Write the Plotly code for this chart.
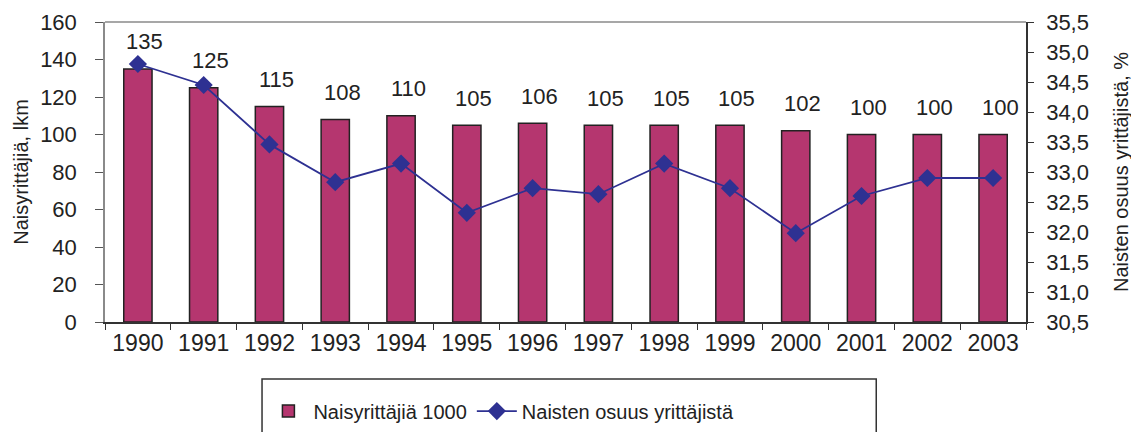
import plotly.graph_objects as go

years = ["1990", "1991", "1992", "1993", "1994", "1995", "1996",
         "1997", "1998", "1999", "2000", "2001", "2002", "2003"]
naisyrittajia = [135, 125, 115, 108, 110, 105, 106, 105, 105, 105, 102, 100, 100, 100]
osuus = [34.8, 34.45, 33.46, 32.83, 33.14, 32.32, 32.73, 32.63, 33.14, 32.73,
         31.98, 32.6, 32.9, 32.9]

FONT = "Arial, Liberation Sans, sans-serif"
BAR_COLOR = "#B5366F"
LINE_COLOR = "#2E3192"

fig = go.Figure()
fig.add_trace(go.Bar(
    x=years, y=naisyrittajia, name="Naisyrittäjiä 1000",
    marker=dict(color=BAR_COLOR, line=dict(color="#222222", width=1.5)),
    width=0.43, yaxis="y",
))
fig.add_trace(go.Scatter(
    x=years, y=osuus, name="Naisten osuus yrittäjistä",
    mode="lines+markers", yaxis="y2",
    line=dict(color=LINE_COLOR, width=1.8),
    marker=dict(symbol="diamond", size=14, color=LINE_COLOR),
))

# value labels above the bars (category axis -> position by category index)
for i, v in enumerate(naisyrittajia):
    fig.add_annotation(x=i, y=v, xref="x", yref="y", text=str(v),
                       showarrow=False, yanchor="middle", yshift=27, xshift=7,
                       font=dict(family=FONT, size=22, color="#222222"))

# plot-area top border (gray) and legend frame
fig.add_shape(type="line", xref="paper", yref="paper", x0=0, x1=1, y0=1, y1=1,
              line=dict(color="#8A8A8A", width=1.5))
fig.add_shape(type="rect", xref="paper", yref="paper",
              x0=0.1705, x1=0.8374, y0=-0.19, y1=-0.40,
              line=dict(color="#333333", width=1.5), fillcolor="rgba(0,0,0,0)")

fig.update_layout(
    width=1131, height=424,
    margin=dict(l=97, r=113, t=14, b=110, autoexpand=False),
    paper_bgcolor="white", plot_bgcolor="white",
    font=dict(family=FONT, size=20, color="#222222"),
    bargap=0.57,
    showlegend=True,
    legend=dict(orientation="h", x=0.172, xanchor="left", y=-0.232, yanchor="top",
                font=dict(family=FONT, size=20, color="#222222"),
                bgcolor="rgba(0,0,0,0)", borderwidth=0, itemwidth=40,
                tracegroupgap=0),
    xaxis=dict(
        type="category", showgrid=False, showline=True, linecolor="#333333", linewidth=1.5,
        ticks="outside", tickson="boundaries", ticklen=6, tickcolor="#333333",
        tickfont=dict(family=FONT, size=23, color="#222222"),
        range=[-0.5, 13.5], zeroline=False,
    ),
    yaxis=dict(
        range=[0, 160], dtick=20, showgrid=False, zeroline=False,
        showline=True, linecolor="#8A8A8A", linewidth=1.5,
        ticks="outside", ticklen=8, tickcolor="#555555",
        tickfont=dict(family=FONT, size=22, color="#222222"),
        ticklabelstandoff=14,
        title=dict(text="Naisyrittäjiä, lkm", font=dict(family=FONT, size=20, color="#222222"),
                   standoff=6),
    ),
    yaxis2=dict(
        range=[30.5, 35.5], dtick=0.5, tickformat=".1f", overlaying="y", side="right",
        showgrid=False, zeroline=False, showline=True, linecolor="#333333", linewidth=1.5,
        ticks="outside", ticklen=6, tickcolor="#333333",
        tickfont=dict(family=FONT, size=22, color="#222222"),
        ticklabelstandoff=8,
        title=dict(text="Naisten osuus yrittäjistä, %", font=dict(family=FONT, size=20, color="#222222"),
                   standoff=26),
    ),
    separators=", ",
)

fig.write_html("out.html")
